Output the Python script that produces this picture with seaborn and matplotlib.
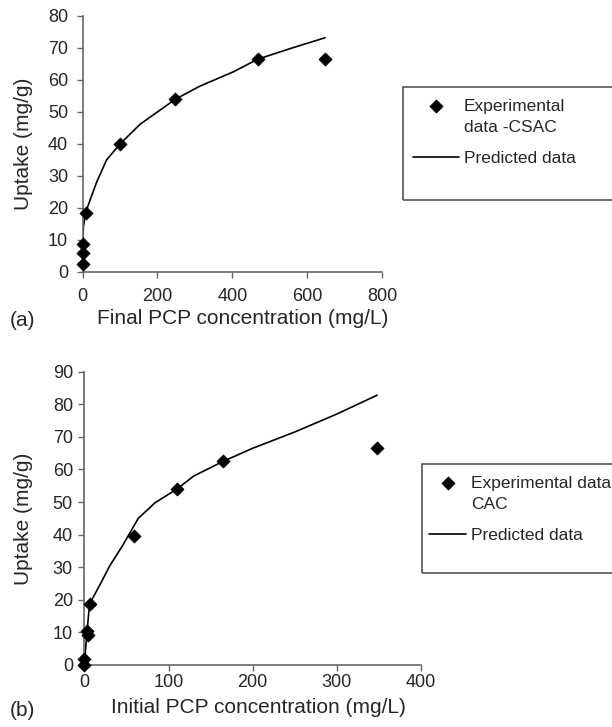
import numpy as np
import pandas as pd
import matplotlib.pyplot as plt
import seaborn as sns
from matplotlib.patches import Rectangle
from matplotlib.legend_handler import HandlerPathCollection

# (a) CSAC, final concentration
exp_a_x = [1, 1, 2, 8, 100, 248, 468, 648]
exp_a_y = [2.5, 5.8, 8.8, 18.5, 40, 54, 66.5, 66.5]
pred_a_x = [1, 2, 8, 20, 38, 64, 100, 154, 200, 248, 314, 404, 468, 560, 648]
pred_a_y = [8.5, 14, 18.5, 22.5, 28.2, 35, 40, 46.2, 50, 54, 58.1, 62.6, 66.5, 70, 73.2]

# (b) CAC, initial concentration
exp_b_x = [0, 0, 3.5, 4.5, 6, 59, 110, 165, 348]
exp_b_y = [0, 1.8, 10.5, 9.2, 18.7, 39.5, 54, 62.5, 66.5]
pred_b_x = [0, 3, 6, 10, 20, 30, 45, 64, 84, 110, 130, 165, 200, 250, 300, 348]
pred_b_y = [0.8, 10, 18.6, 20.6, 25.4, 30.4, 36.5, 45, 49.8, 54, 58, 62.5, 66.5, 71.5, 77, 82.8]

sns.set_style('white')
plt.rcParams['font.family'] = ['Liberation Sans', 'DejaVu Sans']

fig = plt.figure(figsize=(6.12, 7.27), dpi=100)
ax_a = fig.add_axes([0.135, 0.626, 0.489, 0.352])
ax_b = fig.add_axes([0.138, 0.0853, 0.5497, 0.4034])

panels = [
    (ax_a, exp_a_x, exp_a_y, pred_a_x, pred_a_y, 'Final PCP concentration (mg/L)',
     (0, 800), (0, 80), 200, 10, 'Experimental\ndata -CSAC',
     7.0, 6.2, (0.534, -0.146), (-0.166, 0.5)),
    (ax_b, exp_b_x, exp_b_y, pred_b_x, pred_b_y, 'Initial PCP concentration (mg/L)',
     (0, 400), (0, 90), 100, 10, 'Experimental data\nCAC',
     2.5, 4.0, (0.518, -0.112), (-0.1525, 0.5)),
]

for (ax, ex, ey, px, py, xlabel, xlim, ylim, xstep, ystep, exp_label,
     xpad, ypad, xlab_pos, ylab_pos) in panels:
    pred = pd.DataFrame({'x': px, 'y': py})
    exp = pd.DataFrame({'x': ex, 'y': ey})
    sns.lineplot(data=pred, x='x', y='y', ax=ax, color='black', linewidth=1.2,
                 sort=False, estimator=None, label='Predicted data', legend=False)
    sns.scatterplot(data=exp, x='x', y='y', ax=ax, color='black', marker='D', s=45,
                    edgecolor='black', linewidth=0.5, label=exp_label, legend=False,
                    clip_on=False, zorder=3)
    ax.set_xlim(*xlim)
    ax.set_ylim(*ylim)
    ax.set_xticks(np.arange(xlim[0], xlim[1] + 1, xstep))
    ax.set_yticks(np.arange(ylim[0], ylim[1] + 1, ystep))
    ax.set_xlabel(xlabel, fontsize=15)
    ax.set_ylabel('Uptake (mg/g)', fontsize=15)
    ax.xaxis.set_label_coords(*xlab_pos)
    ax.yaxis.set_label_coords(*ylab_pos)
    ax.tick_params(axis='both', labelsize=13, length=4.3, width=1, color='#666666',
                   direction='out', left=True, bottom=True)
    ax.tick_params(axis='x', pad=xpad)
    ax.tick_params(axis='y', pad=ypad)
    for side in ['top', 'right']:
        ax.spines[side].set_visible(False)
    for side in ['left', 'bottom']:
        ax.spines[side].set_color('#666666')
        ax.spines[side].set_linewidth(1.2)

# legends with the outer box drawn separately
legend_specs = [
    (ax_a, (403, 87, 215, 113), (410, 96), 2.6),
    (ax_b, (422, 464, 195, 109), (426, 473), 2.1),
]
for ax, box, anchor, hlen in legend_specs:
    x0, y0, w, h = box
    fig.patches.append(Rectangle((x0 / 612, 1 - (y0 + h) / 727), w / 612, h / 727,
                                 transform=fig.transFigure, fill=False,
                                 edgecolor='#555555', linewidth=1.2))
    handles, labels = ax.get_legend_handles_labels()
    handles = handles[::-1]
    labels = labels[::-1]
    leg = fig.legend(handles, labels, loc='upper left',
                     bbox_to_anchor=(anchor[0] / 612, 1 - anchor[1] / 727),
                     frameon=False, fontsize=12.5, handlelength=hlen, handletextpad=0.3,
                     labelspacing=0.9, borderaxespad=0, borderpad=0.2,
                     handler_map={type(handles[0]): HandlerPathCollection(yoffsets=[1.45])})
    for t in leg.get_texts():
        t.set_linespacing(1.5)

fig.text(10 / 612, 1 - 321 / 727, '(a)', fontsize=15, va='center', ha='left')
fig.text(10 / 612, 1 - 711 / 727, '(b)', fontsize=15, va='center', ha='left')

fig.savefig('out.png', dpi=100)
